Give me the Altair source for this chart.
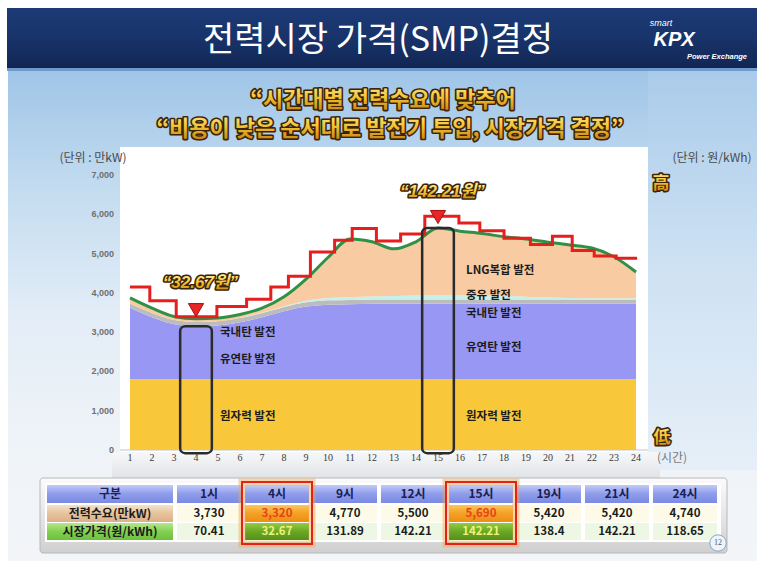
import altair as alt
import pandas as pd

# ---------------- data ----------------
hours = [1, 2, 3, 4, 5, 6, 7, 8, 9, 10, 11, 12, 13, 14, 15, 16, 17, 18, 19, 20, 21, 22, 23, 24]
y_ticks = [0, 1000, 2000, 3000, 4000, 5000, 6000, 7000]
# demand curve (green line), 만kW
demand = [3870, 3610, 3400, 3340, 3360, 3450, 3610, 3900, 4350, 4900, 5370, 5300,
          5120, 5300, 5650, 5570, 5510, 5430, 5370, 5290, 5220, 5140, 4920, 4530]
# nuclear layer top
nuclear_top = [1800, 1800, 1800, 1800, 1800, 1800, 1800, 1800, 1800, 1800, 1800, 1800,
               1800, 1800, 1800, 1800, 1800, 1800, 1800, 1800, 1800, 1800, 1800, 1800]
# coal (유연탄 + 국내탄) layer top
coal_top = [3620, 3380, 3200, 3150, 3170, 3250, 3380, 3530, 3650, 3700, 3710, 3720,
            3720, 3720, 3720, 3720, 3720, 3720, 3720, 3720, 3720, 3720, 3720, 3720]
# grey oil band thickness
oil_band = [110, 110, 110, 110, 110, 110, 110, 110, 110, 110, 110, 110,
            110, 110, 110, 110, 110, 110, 110, 110, 110, 110, 110, 110]
# light-cyan 중유 band thickness
cyan_band = [0, 0, 0, 0, 0, 0, 10, 20, 40, 60, 70, 80,
             90, 100, 100, 100, 100, 90, 70, 50, 40, 30, 30, 30]
# red step line (start hour of each step, level)
step_hour = [1.0, 1.9, 3.1, 4.95, 6.3, 7.4, 8.2, 9.2, 10.3, 11.1, 12.2, 13.3,
             14.4, 15.95, 16.9, 18.0, 19.2, 20.2, 21.1, 22.1, 23.1, 24.05]
step_level = [4150, 3800, 3390, 3650, 3840, 4150, 4420, 5040, 5340, 5640, 5320, 5500,
              5950, 5780, 5580, 5390, 5230, 5440, 5080, 4940, 4880, 4880]
# highlighted hours
mark_hours = [4, 15]
mark_prices = ["“32.67원”", "“142.21원”"]
box_top = [3150, 5650]

# table
table_cols = ["1시", "4시", "9시", "12시", "15시", "19시", "21시", "24시"]
table_demand = [3730, 3320, 4770, 5500, 5690, 5420, 5420, 4740]
table_price = [70.41, 32.67, 131.89, 142.21, 142.21, 138.4, 142.21, 118.65]
highlight_cols = ["4시", "15시"]

# ---------------- layout ----------------
X0, Y0 = 120, 175          # plot-area origin in the page
W, H = 528, 275
KR = "Noto Sans CJK KR"
xs = alt.Scale(domain=[0.545, 24.545], nice=False, zero=False)
ys = alt.Scale(domain=[0, 7000], nice=False)
one = pd.DataFrame({"a": [0]})


def grad(*stops, horizontal=False):
    n = len(stops)
    return alt.LinearGradient(
        gradient="linear",
        stops=[alt.GradientStop(color=c, offset=i / (n - 1)) for i, c in enumerate(stops)],
        x1=0, y1=0, x2=1 if horizontal else 0, y2=0 if horizontal else 1)


def rect(x0, y0, x1, y1, **kw):
    return alt.Chart(one).mark_rect(**kw).encode(
        x=alt.value(x0 - X0), x2=alt.value(x1 - X0),
        y=alt.value(y0 - Y0), y2=alt.value(y1 - Y0))


def txt(x, y, s, **kw):
    return alt.Chart(pd.DataFrame({"s": [s]})).mark_text(**kw).encode(
        x=alt.value(x - X0), y=alt.value(y - Y0), text="s:N")


def gold_txt(x, y, s, size, **kw):
    base = dict(fontSize=size, font=KR, fontWeight="bold", align="center", baseline="middle")
    base.update(kw)
    return [txt(x, y, s, color="#3a2306", stroke="#3a2306", strokeWidth=3.2,
                strokeJoin="round", **base),
            txt(x, y, s, color=grad("#fff3b0", "#f3c433", "#c07a12"), **base)]


def PX(field):
    return alt.X(field, scale=None, axis=None)


def PY(field):
    return alt.Y(field, scale=None, axis=None)


def DX(field):
    return alt.X(field, scale=xs, axis=None, title=None)


def DY(field):
    return alt.Y(field, scale=ys, axis=None, title=None)


layers = []

# page background (sky) and banner
layers.append(rect(8, 70, 757, 561, color=grad("#9fc5e7", "#c4dcf0", "#e3edf7", "#eef3f8", "#f3f5f8")))
layers.append(rect(648, 70, 757, 470, color=grad("#a9cbea", "#cfe2f3", "#e6eff8")))
layers.append(rect(7, 8, 757, 70, color=grad("#1c3a76", "#18336a", "#112552")))
layers.append(rect(7, 68, 757, 71, color="#6f9acb"))

# white chart panel + floor
layers.append(rect(120, 147, 648, 452, color="white"))
layers.append(rect(112, 452, 660, 478, color=grad("#f6f7f8", "#eceef0", "#e0e3e6")))

# stacked generation bands
rows = []
for i, h in enumerate(hours):
    n = nuclear_top[i]
    c = coal_top[i]
    o = c + oil_band[i]
    cy = o + cyan_band[i]
    d = demand[i]
    rows += [
        dict(hour=h, band="nuclear", lo=0, hi=n),
        dict(hour=h, band="coal", lo=n, hi=c),
        dict(hour=h, band="oil", lo=c, hi=o),
        dict(hour=h, band="oil2", lo=o, hi=cy),
        dict(hour=h, band="lng", lo=cy, hi=d),
    ]
bands = pd.DataFrame(rows)
layers.append(alt.Chart(bands).mark_area(interpolate="monotone").encode(
    x=DX("hour:Q"), y=DY("lo:Q"), y2="hi:Q",
    color=alt.Color("band:N", legend=None, scale=alt.Scale(
        domain=["nuclear", "coal", "oil", "oil2", "lng"],
        range=["#f9c83a", "#9897f3", "#bcbcbc", "#c4f1ec", "#f8cba2"])),
    detail="band:N",
))

# axes drawn through the scales
layers.append(alt.Chart(one).mark_rule(color="#c4c4c4", strokeWidth=1).encode(
    x=alt.value(0), x2=alt.value(W), y=alt.value(H)))
xt = pd.DataFrame({"hour": hours})
layers.append(alt.Chart(xt).mark_text(font="Liberation Serif", fontSize=10, color="#3a3a3a",
                                      baseline="top", align="center").encode(
    x=DX("hour:Q"), y=alt.value(H + 3), text="hour:Q"))
yt = pd.DataFrame({"v": y_ticks})
layers.append(alt.Chart(yt).mark_text(font="Liberation Sans", fontSize=9, fontWeight="bold",
                                      color="#707070", baseline="middle", align="right").encode(
    x=alt.value(-6), y=DY("v:Q"), text=alt.Text("v:Q", format=",")))

# demand curve
dem = pd.DataFrame({"hour": hours, "v": demand})
layers.append(alt.Chart(dem).mark_line(color="#2f9146", strokeWidth=3, interpolate="monotone").encode(
    x=DX("hour:Q"), y=DY("v:Q")))

# price step line
stp = pd.DataFrame({"hour": step_hour, "v": step_level})
layers.append(alt.Chart(stp).mark_line(color="#e61e1e", strokeWidth=3, interpolate="step-after").encode(
    x=DX("hour:Q"), y=DY("v:Q")))

# highlight boxes
bx = pd.DataFrame({"h0": [h - 0.72 for h in mark_hours], "h1": [h + 0.72 for h in mark_hours],
                   "top": box_top, "bot": [-80, -80]})
layers.append(alt.Chart(bx).mark_rect(fillOpacity=0, stroke="#2b2b2b", strokeWidth=2.5,
                                      cornerRadius=5).encode(
    x=DX("h0:Q"), x2="h1:Q", y=DY("top:Q"), y2="bot:Q"))

# red markers
tri = pd.DataFrame({"hour": mark_hours, "v": [3560, 5930]})
layers.append(alt.Chart(tri).mark_point(shape="triangle-down", filled=True, size=230,
                                        fill="#e82626", stroke="#a51010", strokeWidth=1,
                                        opacity=1).encode(
    x=DX("hour:Q"), y=DY("v:Q")))

# price annotations
ann = pd.DataFrame({"hour": [4.2, 15.2], "v": [4250, 6560], "s": mark_prices})
for kw in [dict(color="#3a2306", stroke="#3a2306", strokeWidth=3.2, strokeJoin="round"),
           dict(color=grad("#fff3b0", "#f3c433", "#c07a12"))]:
    layers.append(alt.Chart(ann).mark_text(fontSize=17, fontWeight="bold", fontStyle="italic",
                                           font="Liberation Sans, " + KR, **kw).encode(
        x=DX("hour:Q"), y=DY("v:Q"), text="s:N"))

# band labels
blab = [
    (220, 333, "국내탄 발전"), (220, 360, "유연탄 발전"), (220, 417, "원자력 발전"),
    (466, 271, "LNG복합 발전"), (466, 296, "중유 발전"), (466, 314, "국내탄 발전"),
    (466, 348, "유연탄 발전"), (466, 417, "원자력 발전"),
]
for x, y, s in blab:
    layers.append(txt(x, y, s, font=KR, fontSize=11.5, fontWeight="bold", color="#1c1c1c",
                      align="left", baseline="middle"))

# titles
layers.append(txt(378, 41, "전력시장 가격(SMP)결정", font=KR, fontSize=34, color="white",
                  align="center", baseline="middle"))
layers += gold_txt(383, 100, "“시간대별 전력수요에 맞추어", 22)
layers += gold_txt(390, 129, "“비용이 낮은 순서대로 발전기 투입, 시장가격 결정”", 22)

# logo
layers.append(txt(661, 23, "smart", font="Liberation Sans", fontSize=9, fontStyle="italic",
                  color="white", align="center", baseline="middle"))
layers.append(txt(674, 40, "KPX", font="Liberation Sans", fontSize=20, fontStyle="italic",
                  fontWeight="bold", color="white", align="center", baseline="middle"))
layers.append(txt(717, 57, "Power Exchange", font="Liberation Sans", fontSize=7.5,
                  fontStyle="italic", fontWeight="bold", color="white", align="center",
                  baseline="middle"))

# unit labels
layers.append(txt(93, 158, "(단위 : 만kW)", font=KR, fontSize=12, color="#4a4a4a",
                  align="center", baseline="middle"))
layers.append(txt(712, 158, "(단위 : 원/kWh)", font=KR, fontSize=12, color="#4a4a4a",
                  align="center", baseline="middle"))
layers += gold_txt(661, 184, "高", 17)
layers += gold_txt(662, 438, "低", 17)
layers.append(txt(672, 458, "(시간)", font=KR, fontSize=12, color="#7a7a7a",
                  align="center", baseline="middle"))

# ---------------- table ----------------
layers.append(rect(40, 478, 727, 553, color=grad("#fbfbfb", "#e6e6e6", "#cfcfcf"),
                   stroke="#b8b8b8", strokeWidth=1, cornerRadius=3))
layers.append(rect(45, 483, 721, 542, color="white"))

row_y = [(485, 503), (505, 522), (523, 540)]
col_x = [(177 + 68 * i, 177 + 68 * i + 64) for i in range(len(table_cols))]

cells = []
for i, c in enumerate(table_cols):
    x0, x1 = col_x[i]
    hl = c in highlight_cols
    cells.append(dict(x0=x0, x1=x1, r=0, t=c, hl=hl))
    cells.append(dict(x0=x0, x1=x1, r=1, t=f"{table_demand[i]:,}", hl=hl))
    cells.append(dict(x0=x0, x1=x1, r=2, t=str(table_price[i]), hl=hl))
cells = pd.DataFrame(cells)
cells["y0"] = [row_y[r][0] for r in cells["r"]]
cells["y1"] = [row_y[r][1] for r in cells["r"]]
for col in ["x0", "x1"]:
    cells[col] = cells[col] - X0
for col in ["y0", "y1"]:
    cells[col] = cells[col] - Y0
cells["xc"] = (cells["x0"] + cells["x1"]) / 2
cells["yc"] = (cells["y0"] + cells["y1"]) / 2


def cell_layer(df, color):
    return alt.Chart(df).mark_rect(color=color).encode(
        x=PX("x0:Q"), x2="x1:Q", y=PY("y0:Q"), y2="y1:Q")


def cell_text(df, color, size=12):
    return alt.Chart(df).mark_text(color=color, font=KR, fontWeight="bold", fontSize=size,
                                   baseline="middle", align="center").encode(
        x=PX("xc:Q"), y=PY("yc:Q"), text="t:N")


hdr = cells[cells.r == 0]
r1n = cells[(cells.r == 1) & (~cells.hl)]
r2n = cells[(cells.r == 2) & (~cells.hl)]
r1h = cells[(cells.r == 1) & (cells.hl)]
r2h = cells[(cells.r == 2) & (cells.hl)]

layers.append(cell_layer(hdr, grad("#c2cbf7", "#8e9cea", "#7b8ae2")))
layers.append(cell_layer(r1n, "#fdfbe8"))
layers.append(cell_layer(r2n, "#eef7e4"))
layers.append(cell_layer(r1h, grad("#fcc65a", "#f3a024", "#ee8e14")))
layers.append(cell_layer(r2h, grad("#94cc40", "#6aa824", "#55901a")))

# label column
layers.append(rect(47, 485, 173, 503, color=grad("#c2cbf7", "#8e9cea", "#7b8ae2")))
layers.append(rect(47, 505, 173, 522, color=grad("#f5e2c8", "#e6c39c", "#dcb088")))
layers.append(rect(47, 523, 173, 540, color=grad("#b4e88a", "#84d052", "#6cc03c")))
layers.append(txt(110, 494, "구분", font=KR, fontSize=12, fontWeight="bold", color="#1b2056",
                  align="center", baseline="middle"))
layers.append(txt(110, 513.5, "전력수요(만kW)", font=KR, fontSize=12, fontWeight="bold",
                  color="#1c1c1c", align="center", baseline="middle"))
layers.append(txt(110, 531.5, "시장가격(원/kWh)", font=KR, fontSize=12, fontWeight="bold",
                  color="#1c1c1c", align="center", baseline="middle"))

layers.append(cell_text(hdr, "#1b2056", 12))
layers.append(cell_text(r1n, "#1c1c1c", 11.5))
layers.append(cell_text(r2n, "#1c1c1c", 11.5))
layers.append(cell_text(r1h, "#e5431a", 11.5))
layers.append(cell_text(r2h, "#eef27a", 11.5))

# red frames around highlighted columns
hlx = pd.DataFrame([dict(x0=col_x[i][0] - 3 - X0, x1=col_x[i][1] + 3 - X0,
                         y0=482 - Y0, y1=544 - Y0)
                    for i, c in enumerate(table_cols) if c in highlight_cols])
layers.append(alt.Chart(hlx).mark_rect(fillOpacity=0, stroke="#f7a548", strokeWidth=7,
                                       strokeOpacity=0.45).encode(
    x=PX("x0:Q"), x2="x1:Q", y=PY("y0:Q"), y2="y1:Q"))
layers.append(alt.Chart(hlx).mark_rect(fillOpacity=0, stroke="#e3221c", strokeWidth=2).encode(
    x=PX("x0:Q"), x2="x1:Q", y=PY("y0:Q"), y2="y1:Q"))

# page number
layers.append(alt.Chart(one).mark_point(shape="circle", filled=True, size=270, fill="#eef4fb",
                                        stroke="#8aa6c6", strokeWidth=1, opacity=1).encode(
    x=alt.value(718 - X0), y=alt.value(543 - Y0)))
layers.append(txt(718, 543, "12", font="Liberation Serif", fontSize=8, color="#4a5a70",
                  align="center", baseline="middle"))

chart = alt.layer(*layers).properties(
    width=W, height=H,
    autosize=alt.AutoSizeParams(type="none"),
    padding={"left": X0, "top": Y0, "right": 764 - X0 - W, "bottom": 569 - Y0 - H},
).configure(background="white").configure_view(stroke=None)

chart.save("out.html", embed_options={"renderer": "svg", "actions": False})
